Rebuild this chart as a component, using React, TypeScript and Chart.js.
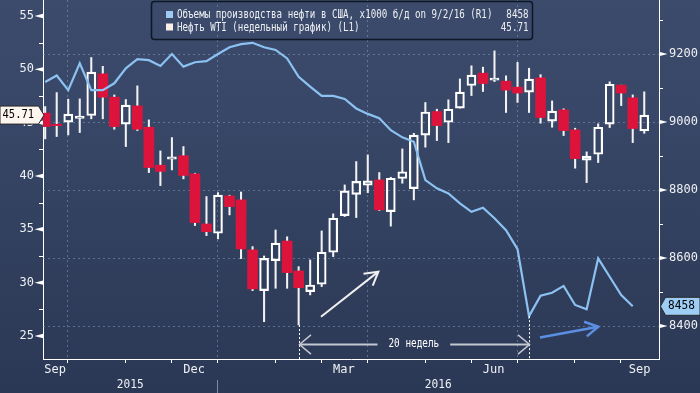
import React, { useEffect, useRef } from 'react';
import { Chart, registerables } from 'chart.js';

Chart.register(...registerables);

// ---------- DATA ----------
const OPEN = [45.89, 44.85, 45.05, 45.40, 45.67, 49.58, 47.39, 44.86, 46.57, 44.57, 41.01, 41.57, 41.90, 40.20, 35.50, 34.63, 38.13, 37.76, 33.07, 29.25, 32.06, 33.90, 31.10, 29.16, 29.85, 32.85, 36.29, 38.28, 39.13, 39.63, 36.66, 39.76, 38.82, 43.83, 46.04, 45.04, 46.36, 48.48, 49.64, 48.98, 48.89, 48.33, 47.86, 49.20, 45.14, 46.20, 44.32, 41.48, 42.04, 44.86, 48.52, 47.33, 44.23];
const HIGH = [46.51, 47.82, 47.20, 47.23, 51.11, 50.28, 47.60, 47.17, 48.45, 45.26, 42.35, 43.60, 42.76, 40.26, 38.07, 38.44, 38.20, 38.50, 33.38, 32.50, 34.94, 34.30, 31.50, 32.13, 34.85, 36.45, 39.16, 41.35, 41.98, 40.32, 39.88, 42.54, 44.00, 46.89, 46.26, 47.14, 49.10, 50.33, 50.20, 51.73, 49.39, 50.65, 50.10, 49.50, 47.04, 46.30, 44.48, 42.26, 44.89, 48.83, 48.52, 47.60, 47.89];
const LOW = [43.48, 43.70, 43.85, 44.07, 45.36, 45.36, 44.38, 42.76, 44.26, 40.32, 39.10, 40.57, 39.73, 35.35, 34.41, 34.10, 36.35, 32.25, 29.25, 26.34, 29.47, 29.47, 26.03, 28.85, 29.63, 32.44, 36.20, 36.10, 38.44, 36.76, 35.30, 39.32, 37.76, 42.70, 43.32, 43.13, 46.36, 47.54, 47.92, 48.85, 45.95, 46.90, 45.95, 44.95, 44.57, 43.79, 40.73, 39.38, 41.26, 44.54, 46.60, 43.13, 44.00];
const CLOSE = [44.63, 44.72, 45.80, 45.61, 49.74, 47.39, 44.63, 46.64, 44.38, 40.79, 40.43, 41.79, 40.05, 35.63, 34.78, 38.20, 37.13, 33.16, 29.41, 32.28, 33.70, 30.94, 29.53, 29.78, 32.85, 36.04, 38.60, 39.50, 39.54, 36.82, 39.79, 40.40, 43.83, 46.00, 44.73, 46.26, 47.86, 49.45, 48.67, 49.17, 48.05, 47.77, 49.08, 45.48, 46.08, 44.26, 41.63, 41.86, 44.57, 48.60, 47.77, 44.45, 45.71];
// US crude production, x1000 b/d (weekly)
const PROD = [9118, 9137, 9094, 9173, 9094, 9094, 9114, 9158, 9185, 9182, 9165, 9200, 9163, 9176, 9179, 9200, 9220, 9229, 9233, 9220, 9212, 9187, 9133, 9104, 9077, 9077, 9068, 9040, 9024, 9011, 8976, 8955, 8942, 8829, 8805, 8790, 8761, 8736, 8748, 8717, 8682, 8626, 8429, 8489, 8498, 8518, 8462, 8449, 8599, 8545, 8491, 8458];

// week index axis
const X_MIN = -0.19;
const X_MAX = 53.28;
// positions (in weeks) of month starts: Oct, Nov, Dec, Jan, Feb, Mar, Apr, May, Jun, Jul, Aug, Sep
const MONTH_TICKS = [1.93, 6.93, 10.93, 14.93, 19.93, 23.93, 27.93, 32.93, 36.93, 40.93, 45.93, 49.93];
const QUARTER_TICKS = [MONTH_TICKS[0], MONTH_TICKS[3], MONTH_TICKS[6], MONTH_TICKS[9]];
const MONTH_LABELS = ['Sep', 'Dec', 'Mar', 'Jun', 'Sep'];
const MONTH_LABEL_POS = [
  (X_MIN + MONTH_TICKS[0]) / 2,
  (MONTH_TICKS[2] + MONTH_TICKS[3]) / 2,
  (MONTH_TICKS[5] + MONTH_TICKS[6]) / 2,
  (MONTH_TICKS[8] + MONTH_TICKS[9]) / 2,
  (MONTH_TICKS[11] + X_MAX) / 2,
];
const YEAR_LABELS = ['2015', '2016'];
const YEAR_SPLIT = MONTH_TICKS[3];

const LEFT_MIN = 22.84;
const LEFT_MAX = 56.5;
const LEFT_TICKS = [25, 30, 35, 40, 45, 50, 55];
const LEFT_MINOR = [27.5, 32.5, 37.5, 42.5, 47.5, 52.5];
const RIGHT_MIN = 8303;
const RIGHT_MAX = 9359;
const RIGHT_TICKS = [8400, 8600, 8800, 9000, 9200];
const RIGHT_MINOR = [8500, 8700, 8900, 9100, 9300];

const LEGEND_PROD = 'Объемы производства нефти в США, x1000 б/д on 9/2/16 (R1)';
const LEGEND_WTI = 'Нефть WTI (недельный график) (L1)';

// annotations (data coordinates)
const SPAN_FROM = 22;
const SPAN_TO = 42;
const SPAN_LABEL = '20 недель';
const SPAN_LEVEL = 24.2; // left-axis value
const WHITE_ARROW = { x0: 23.94, y0: 26.8, x1: 28.92, y1: 31.03 }; // left axis
const BLUE_ARROW = { x0: 42.95, y0: 8366, x1: 48.01, y1: 8398 }; // right axis

// ---------- STYLE ----------
const MONO = '"DejaVu Sans Mono", "Liberation Mono", monospace';
const TEXT = '#eef0f4';
const RED = '#dc143c';
const LINE_BLUE = '#8cc2f2';
const GRID = 'rgba(125,155,185,0.55)';

const WEEKS = OPEN.map((_, i) => i);
const UP = WEEKS.map((i) => CLOSE[i] >= OPEN[i]);

function condText(ctx: CanvasRenderingContext2D, text: string, x: number, y: number, sx: number, align: CanvasTextAlign, color: string, size = 12) {
  ctx.save();
  ctx.font = `${size}px ${MONO}`;
  ctx.fillStyle = color;
  ctx.textBaseline = 'middle';
  ctx.textAlign = align;
  ctx.translate(x, y);
  ctx.scale(sx, 1);
  ctx.fillText(text, 0, 0);
  ctx.restore();
}

function arrowHead(ctx: CanvasRenderingContext2D, tx: number, ty: number, ang: number, len: number, spread: number) {
  ctx.beginPath();
  ctx.moveTo(tx + len * Math.cos(ang + Math.PI - spread), ty + len * Math.sin(ang + Math.PI - spread));
  ctx.lineTo(tx, ty);
  ctx.lineTo(tx + len * Math.cos(ang + Math.PI + spread), ty + len * Math.sin(ang + Math.PI + spread));
  ctx.stroke();
}

const decor = {
  id: 'decor',
  beforeDraw(chart: any) {
    const { ctx, width, height } = chart;
    const g = ctx.createLinearGradient(0, 0, 0, height);
    g.addColorStop(0, '#3c4b6b');
    g.addColorStop(0.3, '#384767');
    g.addColorStop(0.7, '#303e5c');
    g.addColorStop(1, '#2b3855');
    ctx.save();
    ctx.fillStyle = g;
    ctx.fillRect(0, 0, width, height);
    ctx.restore();
  },
  beforeDatasetsDraw(chart: any) {
    const { ctx, chartArea: a, scales } = chart;
    ctx.save();
    ctx.strokeStyle = GRID;
    ctx.lineWidth = 1;
    ctx.setLineDash([2, 3]);
    RIGHT_TICKS.forEach((v) => {
      const y = Math.round(scales.y1.getPixelForValue(v)) + 0.5;
      ctx.beginPath();
      ctx.moveTo(a.left, y);
      ctx.lineTo(a.right, y);
      ctx.stroke();
    });
    QUARTER_TICKS.forEach((v) => {
      const x = Math.round(scales.x.getPixelForValue(v)) + 0.5;
      ctx.beginPath();
      ctx.moveTo(x, a.top);
      ctx.lineTo(x, a.bottom);
      ctx.stroke();
    });
    ctx.restore();
  },
  afterDatasetsDraw(chart: any) {
    const { ctx, chartArea: a, scales } = chart;
    const xs = scales.x, yl = scales.y, yr = scales.y1;
    ctx.save();
    // dotted verticals
    ctx.strokeStyle = '#ffffff';
    ctx.lineWidth = 1;
    ctx.setLineDash([2, 2]);
    const xa = Math.round(xs.getPixelForValue(SPAN_FROM)) + 0.5;
    const xb = Math.round(xs.getPixelForValue(SPAN_TO)) + 0.5;
    ctx.beginPath();
    ctx.moveTo(xa, yl.getPixelForValue(LOW[SPAN_FROM]));
    ctx.lineTo(xa, a.bottom);
    ctx.moveTo(xb, yr.getPixelForValue(PROD[SPAN_TO]));
    ctx.lineTo(xb, a.bottom);
    ctx.stroke();
    ctx.setLineDash([]);

    // span arrow with label
    const ys = Math.round(yl.getPixelForValue(SPAN_LEVEL)) + 0.5;
    const xm = xs.getPixelForValue((SPAN_FROM + SPAN_TO) / 2);
    ctx.font = `12px ${MONO}`;
    const tw = ctx.measureText(SPAN_LABEL).width * 0.78;
    const gap = tw / 2 + 11;
    ctx.strokeStyle = '#c4c8d0';
    ctx.lineWidth = 2;
    ctx.beginPath();
    ctx.moveTo(xa, ys);
    ctx.lineTo(xm - gap, ys);
    ctx.moveTo(xm + gap, ys);
    ctx.lineTo(xb, ys);
    ctx.stroke();
    ctx.lineWidth = 1.5;
    arrowHead(ctx, xa, ys, Math.PI, 15, 0.7);
    arrowHead(ctx, xb, ys, 0, 15, 0.7);
    condText(ctx, SPAN_LABEL, xm, ys - 1, 0.78, 'center', '#ffffff');

    // white arrow
    const wx0 = xs.getPixelForValue(WHITE_ARROW.x0), wy0 = yl.getPixelForValue(WHITE_ARROW.y0);
    const wx1 = xs.getPixelForValue(WHITE_ARROW.x1), wy1 = yl.getPixelForValue(WHITE_ARROW.y1);
    ctx.strokeStyle = '#f0f0f0';
    ctx.lineWidth = 2;
    ctx.beginPath();
    ctx.moveTo(wx0, wy0);
    ctx.lineTo(wx1, wy1);
    ctx.stroke();
    arrowHead(ctx, wx1, wy1, Math.atan2(wy1 - wy0, wx1 - wx0), 15, 0.52);

    // blue arrow
    const bx0 = xs.getPixelForValue(BLUE_ARROW.x0), by0 = yr.getPixelForValue(BLUE_ARROW.y0);
    const bx1 = xs.getPixelForValue(BLUE_ARROW.x1), by1 = yr.getPixelForValue(BLUE_ARROW.y1);
    ctx.strokeStyle = '#5b8fe2';
    ctx.lineWidth = 2.5;
    ctx.beginPath();
    ctx.moveTo(bx0, by0);
    ctx.lineTo(bx1, by1);
    ctx.stroke();
    arrowHead(ctx, bx1, by1, Math.atan2(by1 - by0, bx1 - bx0), 15, 0.52);
    ctx.restore();
  },
  afterDraw(chart: any) {
    const { ctx, chartArea: a, scales, height } = chart;
    const xs = scales.x, yl = scales.y, yr = scales.y1;
    ctx.save();
    ctx.fillStyle = '#ffffff';
    ctx.strokeStyle = '#ffffff';
    ctx.lineWidth = 1;
    // left triangles
    LEFT_TICKS.forEach((v) => {
      const y = yl.getPixelForValue(v);
      ctx.beginPath();
      ctx.moveTo(a.left, y - 2.2);
      ctx.lineTo(a.left, y + 2.2);
      ctx.lineTo(a.left - 8.5, y);
      ctx.closePath();
      ctx.fill();
    });
    LEFT_MINOR.forEach((v) => {
      const y = Math.round(yl.getPixelForValue(v)) + 0.5;
      ctx.beginPath();
      ctx.moveTo(a.left - 4, y);
      ctx.lineTo(a.left, y);
      ctx.stroke();
    });
    RIGHT_TICKS.forEach((v) => {
      const y = yr.getPixelForValue(v);
      ctx.beginPath();
      ctx.moveTo(a.right, y - 2.2);
      ctx.lineTo(a.right, y + 2.2);
      ctx.lineTo(a.right + 8.5, y);
      ctx.closePath();
      ctx.fill();
    });
    RIGHT_MINOR.forEach((v) => {
      const y = Math.round(yr.getPixelForValue(v)) + 0.5;
      ctx.beginPath();
      ctx.moveTo(a.right, y);
      ctx.lineTo(a.right + 4, y);
      ctx.stroke();
    });
    // x month ticks
    MONTH_TICKS.forEach((v) => {
      const x = Math.round(xs.getPixelForValue(v)) + 0.5;
      ctx.beginPath();
      ctx.moveTo(x, a.bottom);
      ctx.lineTo(x, a.bottom + 4);
      ctx.stroke();
    });
    // years
    const xsplit = Math.round(xs.getPixelForValue(YEAR_SPLIT)) + 0.5;
    ctx.strokeStyle = '#7f8ba5';
    ctx.beginPath();
    ctx.moveTo(xsplit, a.bottom + 21);
    ctx.lineTo(xsplit, height);
    ctx.stroke();
    const yYear = a.bottom + 26;
    condText(ctx, YEAR_LABELS[0], (a.left + xsplit) / 2, yYear, 0.93, 'center', TEXT);
    condText(ctx, YEAR_LABELS[1], (xsplit + a.right) / 2, yYear, 0.93, 'center', TEXT);

    // legend
    ctx.strokeStyle = '#0f1626';
    ctx.lineWidth = 1.5;
    ctx.beginPath();
    (ctx as any).roundRect ? (ctx as any).roundRect(151.5, 1.5, 381, 38, 3) : ctx.rect(151.5, 1.5, 381, 38);
    ctx.stroke();
    ctx.fillStyle = '#9dcbf4';
    ctx.fillRect(166, 11, 7, 7);
    ctx.fillStyle = '#fcefe9';
    ctx.fillRect(166, 23.5, 7, 7);
    condText(ctx, LEGEND_PROD, 177, 15, 0.766, 'left', TEXT);
    condText(ctx, LEGEND_WTI, 177, 27.5, 0.766, 'left', TEXT);
    const lastProd = PROD[PROD.length - 1];
    const lastClose = CLOSE[CLOSE.length - 1];
    condText(ctx, String(lastProd), 528.5, 15, 0.766, 'right', TEXT);
    condText(ctx, lastClose.toFixed(2), 528.5, 27.5, 0.766, 'right', TEXT);

    // current-value tags
    const yc = yl.getPixelForValue(lastClose);
    ctx.fillStyle = '#fdf6ef';
    ctx.strokeStyle = '#2a2a2a';
    ctx.lineWidth = 1;
    ctx.beginPath();
    ctx.moveTo(0, yc - 9);
    ctx.lineTo(38.5, yc - 9);
    ctx.lineTo(44, yc);
    ctx.lineTo(38.5, yc + 9);
    ctx.lineTo(0, yc + 9);
    ctx.closePath();
    ctx.fill();
    ctx.stroke();
    condText(ctx, lastClose.toFixed(2), 2.5, yc, 0.875, 'left', '#000000');

    const yp = yr.getPixelForValue(lastProd);
    ctx.fillStyle = '#9dcdf5';
    ctx.beginPath();
    ctx.moveTo(660.5, yp);
    ctx.lineTo(665.5, yp - 9);
    ctx.lineTo(700, yp - 9);
    ctx.lineTo(700, yp + 9);
    ctx.lineTo(665.5, yp + 9);
    ctx.closePath();
    ctx.fill();
    ctx.stroke();
    condText(ctx, String(lastProd), 668, yp, 0.93, 'left', '#000000');
    ctx.restore();
  },
};

export default function App() {
  const ref = useRef<HTMLCanvasElement | null>(null);
  useEffect(() => {
    document.body.style.margin = '0';
    const canvas = ref.current;
    if (!canvas) return;
    const tickFont = { family: MONO, size: 12 };
    const chart = new Chart(canvas, {
      type: 'bar',
      data: {
        datasets: [
          {
            type: 'line',
            label: 'prod',
            data: PROD.map((v, i) => ({ x: WEEKS[i], y: v })),
            yAxisID: 'y1',
            borderColor: LINE_BLUE,
            borderWidth: 2.2,
            pointRadius: 0,
            tension: 0,
            fill: false,
            order: 0,
          } as any,
          {
            label: 'wickLow',
            data: WEEKS.map((i) => ({ x: i, y: [LOW[i], Math.min(OPEN[i], CLOSE[i])] })),
            yAxisID: 'y',
            backgroundColor: '#f2f2f2',
            barThickness: 1.4,
            grouped: false,
            borderWidth: 0,
            order: 4,
          },
          {
            label: 'wickHigh',
            data: WEEKS.map((i) => ({ x: i, y: [Math.max(OPEN[i], CLOSE[i]), HIGH[i]] })),
            yAxisID: 'y',
            backgroundColor: '#f2f2f2',
            barThickness: 1.4,
            grouped: false,
            borderWidth: 0,
            order: 3,
          },
          {
            label: 'down',
            data: WEEKS.filter((i) => !UP[i]).map((i) => ({ x: i, y: [OPEN[i], CLOSE[i]] })),
            yAxisID: 'y',
            backgroundColor: RED,
            barThickness: 10,
            grouped: false,
            borderWidth: 0,
            order: 2,
          },
          {
            label: 'up',
            data: WEEKS.filter((i) => UP[i]).map((i) => ({ x: i, y: [OPEN[i], CLOSE[i]] })),
            yAxisID: 'y',
            backgroundColor: 'rgba(0,0,0,0)',
            borderColor: '#ffffff',
            borderWidth: 1.5,
            borderSkipped: false,
            barThickness: 9,
            grouped: false,
            order: 1,
          },
        ] as any,
      },
      options: {
        animation: false,
        responsive: false,
        devicePixelRatio: 1,
        events: [],
        layout: { padding: 0 },
        plugins: { legend: { display: false }, tooltip: { enabled: false } },
        scales: {
          x: {
            type: 'linear',
            min: X_MIN,
            max: X_MAX,
            offset: false,
            grid: { display: false, drawTicks: false },
            border: { display: true, color: '#ffffff', width: 1 },
            ticks: {
              color: TEXT,
              font: tickFont,
              padding: 4,
              autoSkip: false,
              maxRotation: 0,
              callback: (_v: any, idx: number) => MONTH_LABELS[idx],
            },
            afterBuildTicks: (s: any) => {
              s.ticks = MONTH_LABEL_POS.map((v) => ({ value: v }));
            },
            afterFit: (s: any) => {
              s.height = 34;
              s.paddingLeft = 0;
              s.paddingRight = 0;
            },
          },
          y: {
            type: 'linear',
            position: 'left',
            min: LEFT_MIN,
            max: LEFT_MAX,
            grid: { display: false, drawTicks: false },
            border: { display: true, color: '#ffffff', width: 1 },
            ticks: { color: TEXT, font: tickFont, padding: 9, callback: (v: any) => String(v) },
            afterBuildTicks: (s: any) => {
              s.ticks = LEFT_TICKS.map((v) => ({ value: v }));
            },
            afterFit: (s: any) => {
              s.width = 43;
              s.paddingTop = 0;
              s.paddingBottom = 0;
            },
          },
          y1: {
            type: 'linear',
            position: 'right',
            min: RIGHT_MIN,
            max: RIGHT_MAX,
            grid: { display: false, drawTicks: false },
            border: { display: true, color: '#ffffff', width: 1 },
            ticks: { color: TEXT, font: tickFont, padding: 10, callback: (v: any) => String(v) },
            afterBuildTicks: (s: any) => {
              s.ticks = RIGHT_TICKS.map((v) => ({ value: v }));
            },
            afterFit: (s: any) => {
              s.width = 41;
              s.paddingTop = 0;
              s.paddingBottom = 0;
            },
          },
        },
      } as any,
      plugins: [decor],
    });
    return () => chart.destroy();
  }, []);
  return (
    <div style={{ width: 700, height: 393 }}>
      <canvas ref={ref} width={700} height={393} style={{ display: 'block', width: 700, height: 393 }} />
    </div>
  );
}
